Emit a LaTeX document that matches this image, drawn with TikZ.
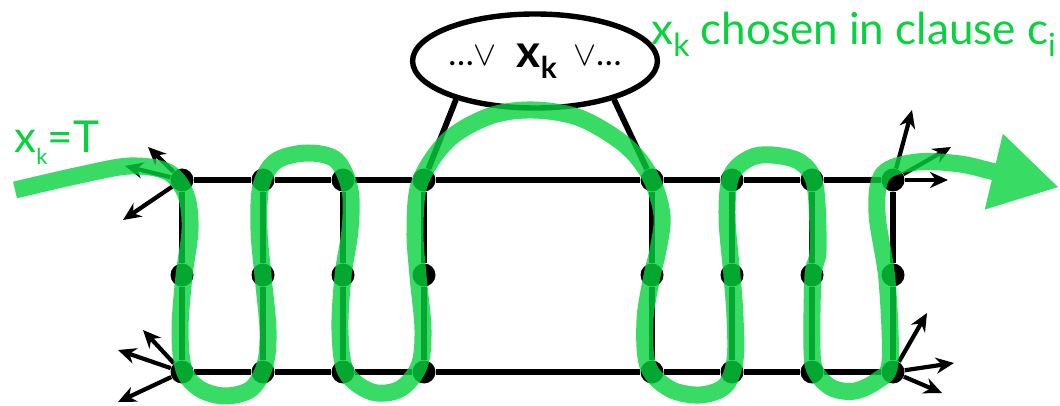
\documentclass[tikz,border=0pt]{standalone}
\usepackage{fontspec}
\setmainfont{Lato}
\usetikzlibrary{positioning,arrows.meta,shapes.geometric}
\definecolor{walkgreen}{RGB}{6,211,61}
\tikzset{
  gdot/.style={circle, fill=black, inner sep=0pt, minimum size=11.5pt},
  gedge/.style={line width=2.9pt},
  outarr/.style={-{Stealth[length=9pt,width=8pt]}, line width=2.1pt},
  clausebox/.style={ellipse, draw, line width=2.7pt, inner sep=0pt,
    minimum width=106pt, minimum height=47pt},
  walk/.style={line width=8.5pt, draw=walkgreen, line join=round},
  greenlbl/.style={text=walkgreen, font=\fontsize{22}{26}\selectfont, inner sep=0pt},
}
\newcommand{\lowsub}[3]{\raisebox{#1}{\fontsize{#2}{#2}\selectfont #3}}

\begin{document}
\begin{tikzpicture}[x=0.5pt, y=-0.5pt]
  \useasboundingbox (0,0) rectangle (1060,406);
  % Gadget nodes
  \foreach \i/\x in {1/182,2/263,3/343,4/424,5/652,6/732,7/812,8/893} {
    \node[gdot] (t\i) at (\x,180) {};
    \node[gdot] (m\i) at (\x,275) {};
    \node[gdot] (b\i) at (\x,372) {};
  }
  % Edges
  \foreach \i [count=\j from 2] in {1,...,7} {
    \draw[gedge] (t\i) -- (t\j);
    \draw[gedge] (b\i) -- (b\j);
  }
  \foreach \i in {1,...,8} {
    \draw[gedge] (t\i) -- (m\i) -- (b\i);
  }
  % Clause
  \node[clausebox] (clause) at (535,61)
    {{\fontsize{17}{18}\selectfont\raisebox{1pt}{\dots$\vee$}}\hspace{10pt}%
     {\fontsize{23}{26}\selectfont\bfseries x\lowsub{-5.5pt}{15pt}{k}}\hspace{8pt}%
     {\fontsize{17}{18}\selectfont\raisebox{1pt}{$\vee$\dots}}};
  \draw[gedge] (clause.206) -- (t4);
  \draw[gedge] (clause.334) -- (t5);
  % Outgoing arrows
  \coordinate (la1) at (148,147);
  \coordinate (la2) at (125,166);
  \coordinate (la3) at (123,220);
  \coordinate (lb1) at (143,330);
  \coordinate (lb2) at (118,350);
  \coordinate (lb3) at (118,402);
  \coordinate (ra1) at (912,110);
  \coordinate (ra2) at (951,147);
  \coordinate (ra3) at (948,180);
  \coordinate (rb1) at (927,313);
  \coordinate (rb2) at (954,363);
  \coordinate (rb3) at (942,393);
  \foreach \c in {la1,la2,la3} \draw[outarr] (t1) -- (\c);
  \foreach \c in {lb1,lb2,lb3} \draw[outarr] (b1) -- (\c);
  \foreach \c in {ra1,ra2,ra3} \draw[outarr] (t8) -- (\c);
  \foreach \c in {rb1,rb2,rb3} \draw[outarr] (b8) -- (\c);
  % Labels
  \node[greenlbl, anchor=base west] (assign) at (14,153)
    {x\lowsub{-6pt}{11pt}{k}=T};
  \node[greenlbl, anchor=base west] (chosen) at (651,45)
    {x\lowsub{-6pt}{16pt}{k} chosen in clause c\lowsub{-6pt}{16pt}{i}};
  % Path of the walk
  \begin{scope}[transparency group, opacity=0.8]
    \draw[walk, -{Triangle[length=33pt,width=39pt,line width=0pt]}]
      plot[smooth, tension=0.55] coordinates {
        (15,190) (80,175) (130,166) (168,172) (186,195) (190,230) (184,276)
        (180,330) (184,370) (200,389) (225,396) (251,389) (265,365) (268,330)
        (263,276) (259,230) (261,186) (276,161) (307,153) (336,160) (350,190)
        (350,230) (343,276) (340,330) (346,372) (372,392) (400,389) (419,366)
        (423,330) (418,276) (415,230) (420,182) (448,140) (490,116) (533,110)
        (580,118) (625,145) (650,176) (662,215) (658,250) (652,276) (645,320)
        (648,366) (670,389) (700,395) (725,386) (735,360) (735,317) (732,276)
        (727,217) (731,176) (750,158) (772,155) (800,162) (815,185) (818,250)
        (813,276) (812,350) (816,372) (832,388) (855,391) (878,380) (890,362)
        (887,280) (877,213) (883,174) (917,162) (960,164) (995,172) (1058,187)};
  \end{scope}
\end{tikzpicture}
\end{document}
